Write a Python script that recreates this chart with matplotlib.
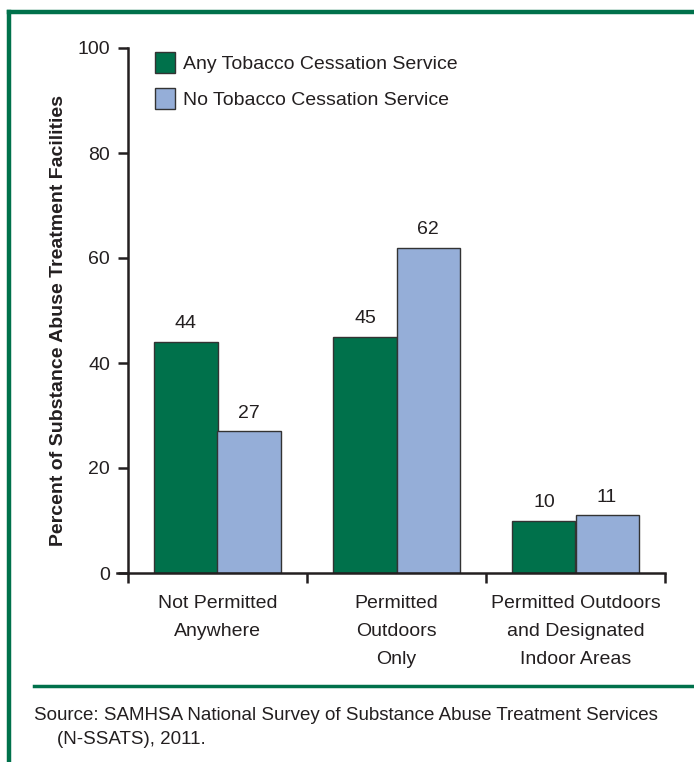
import matplotlib
matplotlib.use("Agg")
import matplotlib.pyplot as plt
from matplotlib import font_manager
import numpy as np

names = {f.name for f in font_manager.fontManager.ttflist}
fam = ["Liberation Sans Narrow", "DejaVu Sans"] if "Liberation Sans Narrow" in names else ["Liberation Sans", "DejaVu Sans"]
plt.rcParams['font.family'] = fam

categories = ["Not Permitted\nAnywhere", "Permitted\nOutdoors\nOnly", "Permitted Outdoors\nand Designated\nIndoor Areas"]
any_service = [44, 45, 10]
no_service = [27, 62, 11]
series_names = ["Any Tobacco Cessation Service", "No Tobacco Cessation Service"]
yticks = [0, 20, 40, 60, 80, 100]

green = "#00714B"
blue = "#95AED8"
edge = "#333333"

W, H = 694, 762
fig = plt.figure(figsize=(W/100, H/100), dpi=100)
ax = fig.add_axes([128/W, 1-573/H, (665-128)/W, (573-48)/H])

x = np.arange(len(categories)) + 0.5
bw = 0.352
b1 = ax.bar(x - bw/2, any_service, bw, color=green, edgecolor=edge, linewidth=1, label=series_names[0])
b2 = ax.bar(x + bw/2, no_service, bw, color=blue, edgecolor=edge, linewidth=1, label=series_names[1])
for bars, vals in ((b1, any_service), (b2, no_service)):
    for r, v in zip(bars, vals):
        ax.annotate(str(v), (r.get_x() + r.get_width()/2, v), xytext=(0, 7), textcoords="offset points",
                    ha="center", va="bottom", fontsize=14, color="#231F20")

ax.set_xlim(0, 3)
ax.set_ylim(0, 100)
ax.set_yticks(yticks)
ax.set_yticklabels([str(t) for t in yticks], fontsize=14, color="#231F20")
ax.set_xticks([0, 1, 2, 3])
ax.set_xticklabels([])
ax.set_xticks(x, minor=True)
ax.set_xticklabels(categories, minor=True, fontsize=14, color="#231F20", linespacing=1.85, va="top")
ax.tick_params(axis="x", which="minor", length=0, pad=16)
ax.tick_params(axis="x", which="major", length=7, width=1.8, direction="out", color="#231F20")
ax.tick_params(axis="y", length=7, width=1.8, direction="out", pad=6, color="#231F20")
for s in ("top", "right"):
    ax.spines[s].set_visible(False)
for s in ("left", "bottom"):
    ax.spines[s].set_linewidth(1.8)
    ax.spines[s].set_color("#231F20")
ax.spines["bottom"].set_bounds(-0.06, 3)
ax.set_ylabel("Percent of Substance Abuse Treatment Facilities", fontsize=14, fontweight="bold",
              color="#231F20")
ax.yaxis.set_label_coords(-61/537, 0.48)

leg = ax.legend(loc="upper left", bbox_to_anchor=(0.018, 1.026), frameon=False, fontsize=14,
                handlelength=1.0, handleheight=1.3, handletextpad=0.45, labelspacing=0.75)
for t in leg.get_texts():
    t.set_color("#231F20")

# frame lines
fig.add_artist(plt.Line2D([9/W, 1], [1-12/H, 1-12/H], color=green, lw=3.2, transform=fig.transFigure))
fig.add_artist(plt.Line2D([9/W, 9/W], [0, 1-12/H], color=green, lw=3.2, transform=fig.transFigure))
fig.add_artist(plt.Line2D([34/W, 1], [1-686/H, 1-686/H], color=green, lw=2.5, transform=fig.transFigure))

fig.text(34/W, 1-716/H, "Source: SAMHSA National Survey of Substance Abuse Treatment Services",
         fontsize=13.5, color="#231F20", va="center", ha="left")
fig.text(57/W, 1-740/H, "(N-SSATS), 2011.", fontsize=13.5, color="#231F20", va="center", ha="left")

fig.savefig("out.png", dpi=100)
